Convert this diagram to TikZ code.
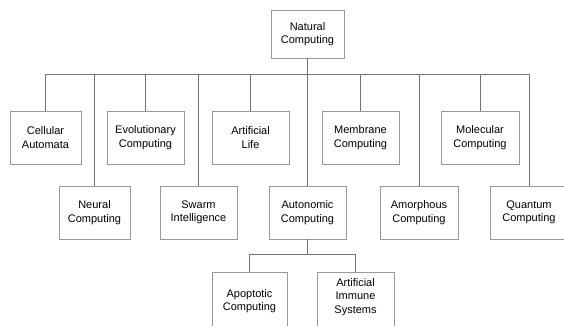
\documentclass[tikz,border=0pt]{standalone}
\usepackage{fontspec}
\setmainfont{Liberation Sans}
\begin{document}
\begin{tikzpicture}[x=1pt,y=-1pt,
  box/.style={draw=black!40,line width=0.9pt,align=center,inner sep=0pt,
    font=\fontsize{11}{13.5}\selectfont,text=black},
  w71/.style={box,minimum width=71pt,minimum height=53pt},
  w77/.style={box,minimum width=77pt,minimum height=53pt},
  w78/.style={box,minimum width=78pt,minimum height=53pt},
  conn/.style={draw=black!55,line width=0.8pt}]
\useasboundingbox (0,0) rectangle (564,326);
\clip (0,0) rectangle (564,326);
% root
\node[box,minimum width=73pt,minimum height=48pt] (nat) at (307.5,34) {Natural\\Computing};
% top row
\node[w71] (cell) at (45.5,137.5) {Cellular\\Automata};
\node[w77] (evo) at (145.5,137.5) {Evolutionary\\Computing};
\node[w77] (alife) at (250.5,137.5) {Artificial\\Life};
\node[w77] (mem) at (360.5,137.5) {Membrane\\Computing};
\node[w78] (mol) at (480,137.5) {Molecular\\Computing};
% bottom row
\node[w71] (neu) at (94.5,212.5) {Neural\\Computing};
\node[w77] (swarm) at (198.5,212.5) {Swarm\\Intelligence};
\node[w77] (auto) at (307.5,212.5) {Autonomic\\Computing};
\node[w78] (amor) at (419,212.5) {Amorphous\\Computing};
\node[w78] (quant) at (529,212.5) {Quantum\\Computing};
% third level
\node[box,minimum width=75pt,minimum height=58pt] (apop) at (249.5,301) {Apoptotic\\Computing};
\node[box,minimum width=77pt,minimum height=58pt,text depth=10pt] (ais) at (355.5,301) {Artificial\\Immune\\Systems};
% buses
\coordinate (bus) at (0,74);
\coordinate (bustwo) at (0,254);
\draw[conn] (nat.south) -- (nat.south |- bus);
\draw[conn] (cell.north |- bus) -- (quant.north |- bus);
\foreach \n in {cell,evo,alife,mem,mol,neu,swarm,auto,amor,quant}
  \draw[conn] (\n.north) -- (\n.north |- bus);
\draw[conn] (auto.south) -- (auto.south |- bustwo);
\draw[conn] (apop.north |- bustwo) -- (ais.north |- bustwo);
\foreach \n in {apop,ais}
  \draw[conn] (\n.north) -- (\n.north |- bustwo);
\end{tikzpicture}
\end{document}
